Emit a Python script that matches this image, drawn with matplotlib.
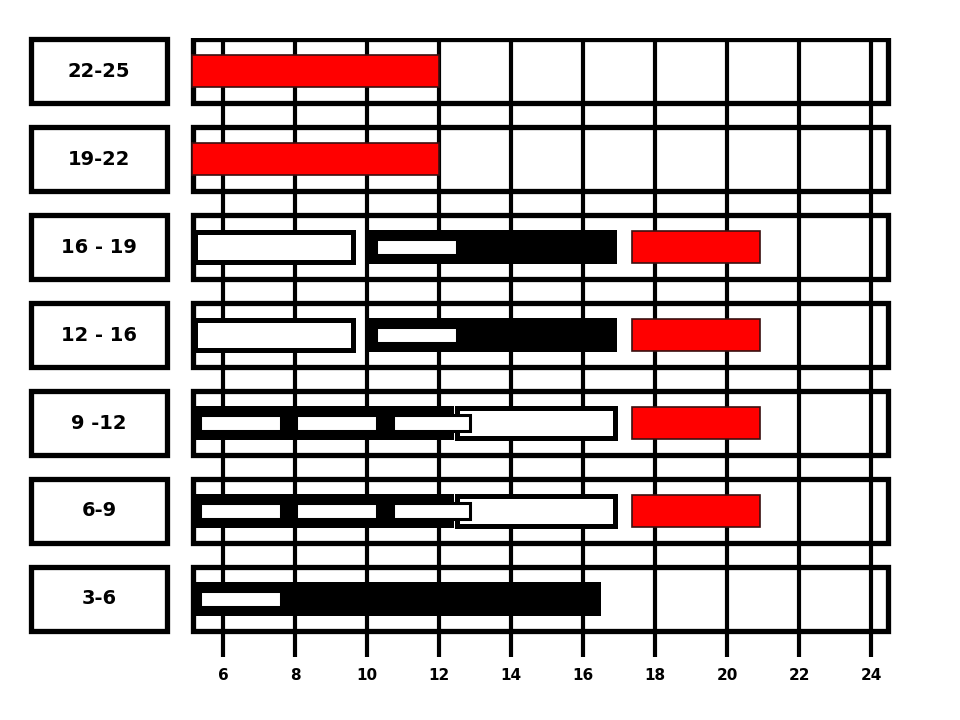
import matplotlib.pyplot as plt
from matplotlib.patches import Rectangle

plt.rcParams['font.family'] = ['DejaVu Sans']

# rows from bottom to top
rows = ['3-6', '6-9', '9 -12', '12 - 16', '16 - 19', '19-22', '22-25']
ticks = list(range(6, 25, 2))
x_start = 5.17
x_end = 24.47

# (row, start, end)
red_bars = [('22-25', 5.14, 12.0), ('19-22', 5.14, 12.0),
            ('16 - 19', 17.36, 20.92), ('12 - 16', 17.36, 20.92),
            ('9 -12', 17.36, 20.92), ('6-9', 17.36, 20.92)]
black_bars = [('16 - 19', 10.03, 16.94), ('12 - 16', 10.03, 16.94),
              ('9 -12', 5.1, 12.42), ('6-9', 5.1, 12.42),
              ('3-6', 5.1, 16.5)]
outline_bars = [('16 - 19', 5.14, 9.61), ('12 - 16', 5.14, 9.61),
                ('9 -12', 12.42, 16.9), ('6-9', 12.42, 16.9)]
inner_bars = [('16 - 19', 10.25, 12.5), ('12 - 16', 10.25, 12.5),
              ('9 -12', 5.36, 7.61), ('9 -12', 8.03, 10.28), ('9 -12', 10.72, 12.86),
              ('6-9', 5.36, 7.61), ('6-9', 8.03, 10.28), ('6-9', 10.72, 12.86),
              ('3-6', 5.36, 7.61)]

fig = plt.figure(figsize=(9.6, 7.2), dpi=100)
ax = fig.add_axes([180/960, 63/720, 720/960, 619/720])
ax.set_xlim(6 - 43/36, 6 + 677/36)
ax.set_ylim(-58/88, 561/88)

ypos = {r: i for i, r in enumerate(rows)}

ax.set_xticks(ticks)
ax.set_yticks([])
ax.tick_params(axis='x', length=0, pad=8, labelsize=11)
for lab in ax.get_xticklabels():
    lab.set_fontweight('bold')
ax.grid(axis='x', color='black', lw=3)
ax.set_axisbelow(True)
for s in ax.spines.values():
    s.set_visible(False)

box_h = 0.716
for r in rows:
    y = ypos[r]
    ax.add_patch(Rectangle((x_start, y - box_h/2), x_end - x_start, box_h,
                           fill=False, ec='black', lw=3.8, zorder=2))
    # label box on the left
    ax.add_patch(Rectangle((0.667, y - box_h/2), 3.777, box_h, fill=True, fc='white',
                           ec='black', lw=3.8, zorder=2, clip_on=False))
    ax.text(0.667 + 3.777/2, y, r, ha='center', va='center', fontsize=14,
            fontweight='bold', clip_on=False)

bh = 0.385
for r, a, b in black_bars:
    ax.barh(ypos[r], b - a, left=a, height=bh, color='black', zorder=3)
for r, a, b in outline_bars:
    ax.barh(ypos[r], b - a - 0.07, left=a + 0.07, height=bh - 0.04, color='white',
            ec='black', lw=3.6, zorder=4)
for r, a, b in inner_bars:
    ax.barh(ypos[r], b - a, left=a, height=0.18, color='white', ec='black',
            lw=2.2, zorder=5)
for r, a, b in red_bars:
    ax.barh(ypos[r], b - a, left=a, height=bh - 0.02, color='#ff0000', ec='#3a1010',
            lw=1.2, zorder=4)

fig.savefig('out.png', dpi=100)
